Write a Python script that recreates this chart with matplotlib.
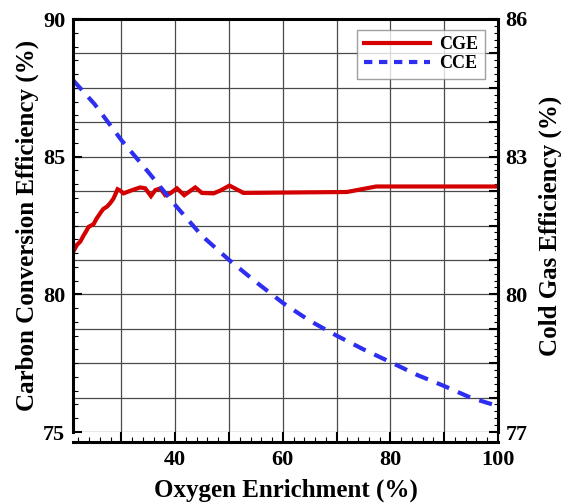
import matplotlib
matplotlib.use("Agg")
import matplotlib.pyplot as plt
from matplotlib.ticker import MultipleLocator, AutoMinorLocator, FuncFormatter
from matplotlib.lines import Line2D

# --------------------------------------------------------------
# Daten
# --------------------------------------------------------------
# CCE - Carbon Conversion Efficiency (linke Achse)
cce_x = [21, 25, 30, 35, 40, 45, 50, 55, 60, 65, 70, 75, 80, 85, 90, 95, 100]
cce_y = [87.78, 86.91, 85.60, 84.44, 83.24, 82.12, 81.25, 80.45, 79.69,
         79.04, 78.50, 78.00, 77.54, 77.07, 76.67, 76.24, 75.94]

# CGE - Cold Gas Efficiency (rechte Achse)
cge_x = [21.0, 21.74, 22.36, 22.91, 23.47, 23.90, 24.83, 25.33, 26.07, 26.63,
         27.32, 27.93, 28.54, 29.29, 29.79, 30.40, 31.96, 33.50, 34.43, 35.49,
         36.29, 37.22, 38.15, 39.08, 40.32, 41.68, 43.72, 44.96, 47.12, 48.36,
         50.09, 52.69, 71.90, 77.34, 100.0]
cge_y = [80.92, 81.08, 81.15, 81.27, 81.38, 81.47, 81.53, 81.64, 81.77, 81.86,
         81.91, 81.99, 82.09, 82.29, 82.26, 82.20, 82.27, 82.33, 82.31, 82.14,
         82.27, 82.31, 82.16, 82.20, 82.31, 82.16, 82.33, 82.21, 82.20, 82.26,
         82.37, 82.21, 82.23, 82.35, 82.35]

# --------------------------------------------------------------
# Stil
# --------------------------------------------------------------
plt.rcParams['font.family'] = ['Liberation Serif', 'DejaVu Serif']
plt.rcParams['font.weight'] = 'bold'
plt.rcParams['axes.labelweight'] = 'bold'

red = '#d40000'
blue = '#2e2ef0'
spine_lw = 2.2

fig = plt.figure(figsize=(5.69, 5.03), dpi=100)
ax = fig.add_axes([73 / 569, 1 - 432 / 503, (498 - 73) / 569, (432 - 19) / 503])
ax2 = ax.twinx()

# Zeichenreihenfolge: rechte Achse (Gitter + CGE) unten, CCE oben
ax2.set_zorder(0)
ax.set_zorder(1)
ax.patch.set_visible(False)
ax2.patch.set_visible(True)
ax2.patch.set_facecolor('white')

ax2.plot(cge_x, cge_y, color=red, lw=3.0, solid_joinstyle='miter', label='CGE')
ax.plot(cce_x, cce_y, color=blue, lw=3.0, dashes=(3.2, 2.3), label='CCE')

# Achsenbereiche
ax.set_xlim(21, 100)
ax.set_ylim(75, 90)
ax2.set_ylim(77, 86)

# Ticks x
ax.xaxis.set_major_locator(MultipleLocator(10))
ax.xaxis.set_minor_locator(MultipleLocator(2))
ax.xaxis.set_major_formatter(FuncFormatter(lambda v, p: f'{v:.0f}' if round(v) % 20 == 0 else ''))
ax.tick_params(axis='x', which='major', direction='in', length=7.2, width=1.5, pad=6, labelsize=16, top=False)
ax.tick_params(axis='x', which='minor', direction='in', length=3.6, width=0.8, top=False)

# Ticks links
ax.yaxis.set_major_locator(MultipleLocator(5))
ax.yaxis.set_minor_locator(MultipleLocator(0.5))
ax.tick_params(axis='y', which='major', direction='in', length=6.5, width=1.5, pad=5.5, labelsize=16, right=False)
ax.tick_params(axis='y', which='minor', direction='in', length=3.6, width=0.8, right=False)

# Ticks rechts
ax2.yaxis.set_major_locator(MultipleLocator(0.75, offset=77))
ax2.yaxis.set_minor_locator(AutoMinorLocator(5))
ax2.yaxis.set_major_formatter(FuncFormatter(
    lambda v, p: f'{v:.0f}' if abs(v - round(v)) < 1e-6 and round(v) % 3 == 2 else ''))
ax2.tick_params(axis='y', which='major', direction='in', length=6.5, width=1.5, pad=5.5, labelsize=16)
ax2.tick_params(axis='y', which='minor', direction='in', length=3.0, width=0.8)

# Gitter auf der unteren Achse
ax2.xaxis.set_visible(True)
ax2.tick_params(axis='x', which='both', length=0, labelbottom=False, labeltop=False)
ax2.set_axisbelow(True)
ax2.grid(True, which='major', axis='both', color='#4a4a4a', lw=0.9)

# Rahmen
for s in ['left', 'top', 'bottom']:
    ax.spines[s].set_linewidth(spine_lw)
ax.spines['right'].set_visible(False)
ax.spines['bottom'].set_position(('outward', 7.2))
for s in ['left', 'top', 'bottom']:
    ax2.spines[s].set_visible(False)
ax2.spines['right'].set_linewidth(spine_lw)

# Beschriftung
ax.set_xlabel('Oxygen Enrichment (%)', fontsize=18, labelpad=6)
ax.set_ylabel('Carbon Conversion Efficiency (%)', fontsize=18, labelpad=3)
ax2.set_ylabel('Cold Gas Efficiency (%)', fontsize=18, labelpad=8)

# Legende
handles = [Line2D([], [], color=red, lw=3.0),
           Line2D([], [], color=blue, lw=3.0, dashes=(2.0, 1.6))]
leg = ax.legend(handles, ['CGE', 'CCE'], loc='upper right', bbox_to_anchor=(0.969, 0.973),
                borderaxespad=0, fancybox=False, fontsize=13, handlelength=3.7,
                handletextpad=0.5, labelspacing=0.1, borderpad=0.35)
leg.get_frame().set_edgecolor('#888888')
leg.get_frame().set_linewidth(1.0)

fig.savefig('out.png', dpi=100)
